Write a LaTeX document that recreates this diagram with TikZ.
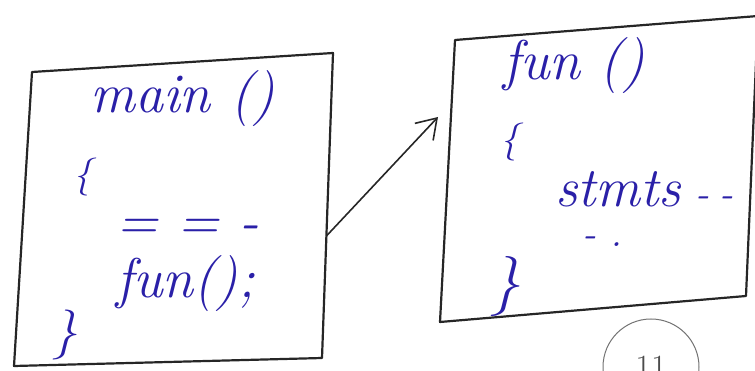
\documentclass[tikz,border=0pt]{standalone}
\usepackage{xcolor}
\usepackage{tikz}
\usetikzlibrary{arrows.meta,calc}
\definecolor{InkBlue}{RGB}{42,32,168}
\definecolor{PencilGray}{RGB}{38,38,38}

\begin{document}
\begin{tikzpicture}[
  x=1pt, y=-1pt,
  sketch/.style={
    draw=PencilGray,
    line width=2.2pt,
    line join=round,
    line cap=round
  },
  ink/.style={
    text=InkBlue,
    inner sep=0pt,
    font=\fontsize{56}{60}\selectfont\itshape
  },
  brace/.style={ink, font=\fontsize{38}{40}\selectfont\itshape},
  pagemark/.style={
    circle,
    draw=black!55,
    line width=1pt,
    minimum size=96pt,
    text=black!70,
    font=\fontsize{34}{36}\selectfont
  },
  call/.style={-{Straight Barb[length=19pt, width=25pt]}, draw=PencilGray, line width=1.6pt}
]
\clip (0,0) rectangle (755,371);

% caller frame
\coordinate (mainTL) at (32,72);
\coordinate (mainTR) at (333,53);
\coordinate (mainBR) at (322,358);
\coordinate (mainBL) at (14,366);
\draw[sketch] (mainTL) -- (mainTR) -- (mainBR) -- (mainBL) -- cycle;

% callee frame
\coordinate (funTL) at (455,40);
\coordinate (funTR) at (758,16);
\coordinate (funBR) at (746,296);
\coordinate (funBL) at (440,322);
\draw[sketch] (funTL) -- (funTR) -- (funBR) -- (funBL) -- cycle;

% code in main
\node[ink, anchor=base west] (mainhead) at (90,113) {main ()};
\node[brace] (mainopen) at (83,177) {\{};
\node[ink, anchor=base west] (mainbody) at (116,240) {= = -};
\node[ink, anchor=base west] (maincall) at (116,298) {fun();};
\node[brace, font=\fontsize{50}{52}\selectfont\itshape] (mainclose) at (65,335) {\}};

% code in fun
\node[ink, anchor=base west] (funhead) at (503,80) {fun ()};
\node[brace] (funopen) at (510,142) {\{};
\node[ink, anchor=base west] (funbody) at (555,207) {stmts\hspace{14pt}{\fontsize{40}{44}\selectfont-\hspace{10pt}-}};
\node[ink, font=\fontsize{40}{44}\selectfont\itshape] (funmore) at (602,242) {- .};
\node[brace, font=\fontsize{60}{62}\selectfont\itshape] (funclose) at (505,287) {\}};

% the call
\coordinate (callout) at ($(mainTR)!0.6!(mainBR)$);
\coordinate (callin) at (438,117);
\draw[call] (callout) -- (callin);

% page number
\node[pagemark] (pageno) at (651,367) {11};
\end{tikzpicture}
\end{document}
